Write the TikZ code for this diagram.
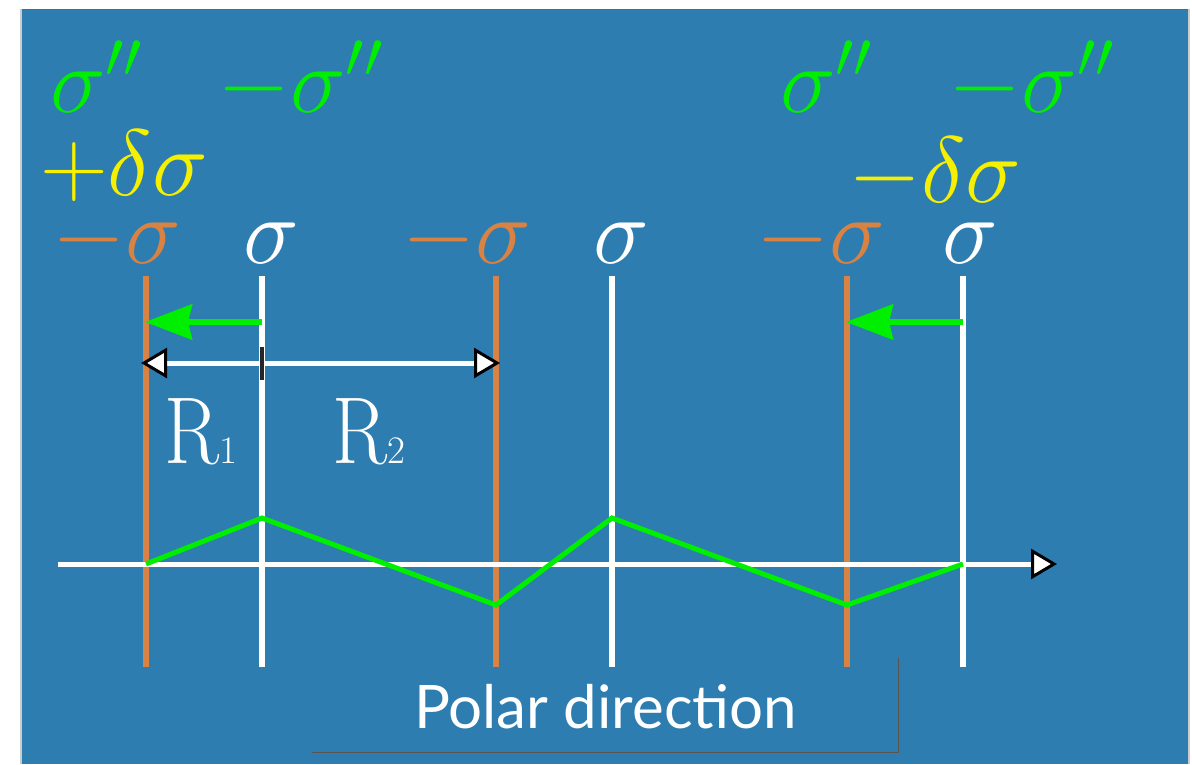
\RequirePackage{fix-cm}
\documentclass[tikz,border=0pt]{standalone}
\usepackage{fontspec}
\newfontfamily\polarfont{Lato}
\usetikzlibrary{arrows.meta}
\definecolor{bgblue}{RGB}{46,125,176}
\definecolor{lgreen}{RGB}{0,238,0}
\definecolor{lyellow}{RGB}{245,240,0}
\definecolor{lorange}{RGB}{216,130,68}
\definecolor{shadowgray}{RGB}{90,85,80}
\begin{document}
\begin{tikzpicture}[x=1pt,y=-1pt,
  mathlbl/.style={inner sep=0pt, anchor=base west, font=\fontsize{94}{94}\selectfont},
  rlbl/.style={inner sep=0pt, anchor=base west, text=white, font=\fontsize{95}{95}\selectfont},
  orangeline/.style={draw=lorange, line width=6pt},
  whiteline/.style={draw=white, line width=6pt},
  zigzag/.style={draw=lgreen, line width=5pt, line join=miter},
  greenarrow/.style={draw=lgreen, line width=6pt, -{Stealth[length=47pt,width=35pt,inset=4pt]}},
  whitetip/.tip={Triangle[length=26pt,width=30pt,fill=white,color=black,line width=3pt]},
  dimarrow/.style={draw=white, line width=5pt, {whitetip}-{whitetip}},
  boxshadow/.style={draw=shadowgray, line width=1pt}
]
\useasboundingbox (0,0) rectangle (1192,764);
\fill[white] (0,0) rectangle (1192,764);
\fill[gray!40] (20,9) rectangle (1190,764);
\fill[bgblue] (22,9) rectangle (1188,764);
\draw[black!60, line width=1pt] (22,9.5) -- (1188,9.5);

% vertical line endpoints
\foreach \n/\x in {o1/146, w1/262, o2/496, w2/612, o3/847, w3/963} {
  \coordinate (\n top) at (\x,276);
  \coordinate (\n bot) at (\x,667);
}
\foreach \n in {o1,o2,o3} \draw[orangeline] (\n top) -- (\n bot);
\foreach \n in {w1,w2,w3} \draw[whiteline] (\n top) -- (\n bot);

% axis
\coordinate (axisstart) at (58,564);
\coordinate (axisend) at (1057,564);
\draw[white, line width=5pt, -{whitetip}] (axisstart) -- (axisend);

% zigzag
\coordinate (z1) at (146,564);
\coordinate (z2) at (262,518);
\coordinate (z3) at (496,605);
\coordinate (z4) at (612,518);
\coordinate (z5) at (847,605);
\coordinate (z6) at (963,564);
\draw[zigzag] (z1) -- (z2) -- (z3) -- (z4) -- (z5) -- (z6);

% green arrows
\coordinate (ga1s) at (262,322);
\coordinate (ga1e) at (145,322);
\coordinate (ga2s) at (963,322);
\coordinate (ga2e) at (846,322);
\draw[greenarrow] (ga1s) -- (ga1e);
\draw[greenarrow] (ga2s) -- (ga2e);

% dimension arrow
\coordinate (dl) at (141,363);
\coordinate (dr) at (500,363);
\draw[dimarrow] (dl) -- (dr);
\coordinate (tickt) at (262,347);
\coordinate (tickb) at (262,380);
\draw[black!85, line width=4pt] (tickt) -- (tickb);

% R labels
\node[rlbl] (r1) at (164,463) {\scalebox{0.85}[1]{R}\fontsize{39}{39}\selectfont 1};
\node[rlbl] (r2) at (332,463) {\scalebox{0.85}[1]{R}\fontsize{39}{39}\selectfont 2};

% sigma labels
\node[mathlbl, text=lorange] (m1) at (52,263) {$-\sigma$};
\node[mathlbl, text=white]   (s1) at (243,263) {$\sigma$};
\node[mathlbl, text=lorange] (m2) at (402,263) {$-\sigma$};
\node[mathlbl, text=white]   (s2) at (593,263) {$\sigma$};
\node[mathlbl, text=lorange] (m3) at (756,263) {$-\sigma$};
\node[mathlbl, text=white]   (s3) at (942,263) {$\sigma$};

% green / yellow labels
\node[mathlbl, text=lgreen] (g1) at (50,112) {$\sigma''$};
\node[mathlbl, text=lgreen] (g2) at (217,112) {$-\sigma''$};
\node[mathlbl, text=lyellow] (y1) at (40,195) {$+\delta\sigma$};
\node[mathlbl, text=lgreen] (g3) at (780,112) {$\sigma''$};
\node[mathlbl, text=lgreen] (g4) at (948,112) {$-\sigma''$};
\node[mathlbl, text=lyellow] (y2) at (848,202) {$-\delta\sigma$};

% Polar direction box shadow
\coordinate (bxl) at (312,752);
\coordinate (bxc) at (898,752);
\coordinate (bxt) at (898,658);
\draw[boxshadow] (bxl) -- (bxc) -- (bxt);
\node[inner sep=0pt, anchor=base west, text=white, font=\polarfont\fontsize{60}{60}\selectfont] (polar) at (414,728) {Polar direction};
\end{tikzpicture}
\end{document}
